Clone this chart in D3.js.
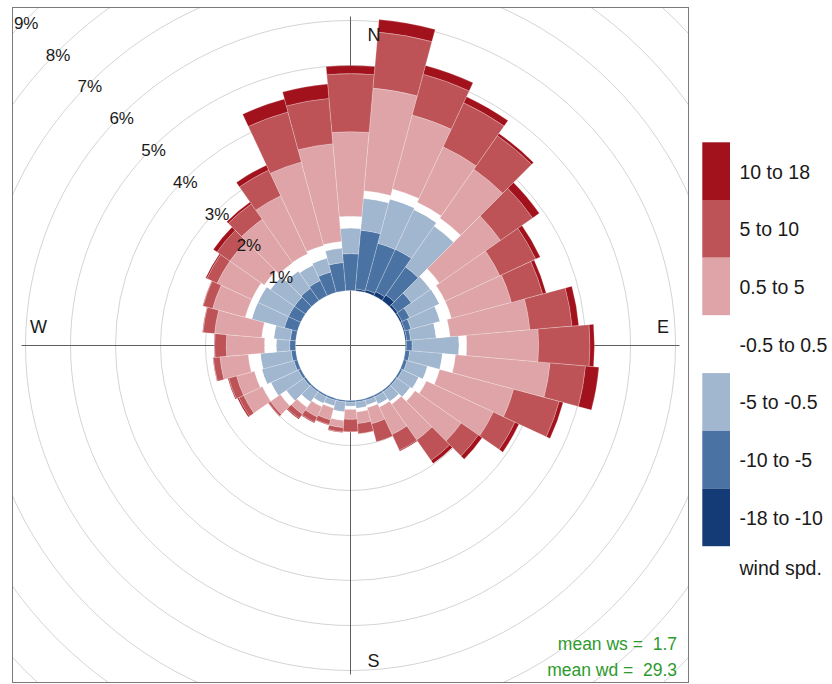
<!DOCTYPE html>
<html>
<head>
<meta charset="utf-8">
<script src="https://cdn.jsdelivr.net/npm/d3@7"></script>
<style>
  body { margin: 0; background: #ffffff; }
  svg text { font-family: "Liberation Sans", Arial, Helvetica, sans-serif; }
</style>
</head>
<body>
<svg id="chart" width="832" height="684"></svg>
<script>
// Wind direction sectors (degrees, clockwise from north)
const directions = [0, 10, 20, 30, 40, 50, 60, 70, 80, 90, 100, 110, 120, 130, 140, 150, 160, 170,
                    180, 190, 200, 210, 220, 230, 240, 250, 260, 270, 280, 290, 300, 310, 320, 330, 340, 350];

// Wind speed intervals, stacked from the centre outwards
const intervals = ["-18 to -10", "-10 to -5", "-5 to -0.5", "-0.5 to 0.5", "0.5 to 5", "5 to 10", "10 to 18"];
const intervalColours = ["#153b77", "#4a72a3", "#a1b6cf", "#ffffff", "#dea4a7", "#bd5357", "#a2121c"];

// Frequency (% of all hours) for each interval, one value per direction sector
const freqNeg18to10 = [0.00, 0.04, 0.06, 0.10, 0.15, 0.06, 0.04, 0.03, 0.03, 0.02,
                       0.00, 0.00, 0.00, 0.00, 0.00, 0.00, 0.00, 0.00, 0.00,
                       0.00, 0.00, 0.00, 0.00, 0.00, 0.00, 0.00, 0.00, 0.00,
                       0.00, 0.00, 0.00, 0.00, 0.00, 0.00, 0.00, 0.00];
const freqNeg10to5  = [0.82, 1.31, 1.07, 1.04, 0.76, 0.37, 0.19, 0.14, 0.09, 0.13,
                       0.10, 0.08, 0.05, 0.04, 0.04, 0.04, 0.04, 0.04, 0.04,
                       0.04, 0.04, 0.04, 0.04, 0.05, 0.06, 0.08, 0.10, 0.13,
                       0.12, 0.30, 0.30, 0.30, 0.33, 0.37, 0.47, 0.63];
const freqNeg5to05  = [0.57, 0.71, 1.02, 0.97, 1.11, 0.52, 0.73, 0.67, 0.57, 1.04,
                       0.73, 0.47, 0.40, 0.36, 0.26, 0.18, 0.11, 0.14, 0.09,
                       0.22, 0.13, 0.16, 0.28, 0.47, 0.67, 0.74, 0.69, 0.30,
                       0.37, 0.75, 0.75, 0.65, 0.47, 0.38, 0.32, 0.32];
const freqCalm      = [0.26, 0.17, 0.23, 0.18, 0.22, 0.24, 0.14, 0.26, 0.31, 0.17,
                       0.29, 0.28, 0.19, 0.13, 0.07, 0.07, 0.06, 0.08, 0.07,
                       0.19, 0.05, 0.08, 0.14, 0.16, 0.21, 0.17, 0.27, 0.26,
                       0.27, 0.15, 0.15, 0.17, 0.22, 0.28, 0.29, 0.15];
const freq05to5     = [1.88, 2.29, 1.70, 1.36, 1.32, 1.66, 1.34, 1.38, 1.78, 1.60,
                       2.11, 1.70, 1.64, 1.25, 0.97, 0.67, 0.37, 0.26, 0.22,
                       0.16, 0.27, 0.25, 0.18, 0.27, 0.46, 0.41, 0.63, 0.85,
                       1.05, 0.75, 0.85, 0.93, 1.18, 1.42, 1.92, 2.18];
const freq5to10     = [1.29, 1.25, 0.94, 1.08, 0.91, 0.87, 0.88, 0.72, 0.94, 1.14,
                       0.79, 1.05, 0.53, 0.47, 0.56, 0.39, 0.42, 0.23, 0.28,
                       0.10, 0.11, 0.13, 0.12, 0.05, 0.12, 0.18, 0.15, 0.26,
                       0.26, 0.22, 0.25, 0.35, 0.42, 0.63, 1.15, 1.01];
const freq10to18    = [0.18, 0.28, 0.20, 0.15, 0.06, 0.18, 0.11, 0.08, 0.15, 0.10,
                       0.30, 0.09, 0.10, 0.10, 0.08, 0.02, 0.00, 0.00, 0.00,
                       0.01, 0.01, 0.02, 0.02, 0.01, 0.03, 0.02, 0.01, 0.01,
                       0.01, 0.01, 0.03, 0.10, 0.05, 0.12, 0.30, 0.32];

const gridTicks = [1, 2, 3, 4, 5, 6, 7, 8, 9];
const compassLabels = ["N", "E", "S", "W"];
const legendTitle = "wind spd.";
const meanWs = 1.7;
const meanWd = 29.3;

// ---- layout ----
const cx = 350.5, cy = 345.5;
const panel = { x: 12.5, y: 7.5, w: 676, h: 675 };
const holeRadius = 55;
const svg = d3.select("#chart");

const r = d3.scaleLinear().domain([0, 9]).range([holeRadius, holeRadius + 9 * 45]);
const halfSector = 5 * Math.PI / 180;

const seriesByInterval = [freqNeg18to10, freqNeg10to5, freqNeg5to05, freqCalm, freq05to5, freq5to10, freq10to18];
const table = directions.map((d, i) => {
  const row = { dir: d };
  intervals.forEach((name, k) => { row[name] = seriesByInterval[k][i]; });
  return row;
});
const stacked = d3.stack().keys(intervals)(table);
const colour = d3.scaleOrdinal().domain(intervals).range(intervalColours);

// clip to the panel
svg.append("defs").append("clipPath").attr("id", "panelClip")
  .append("rect").attr("x", panel.x).attr("y", panel.y).attr("width", panel.w).attr("height", panel.h);

const plot = svg.append("g").attr("clip-path", "url(#panelClip)");

// grid circles
plot.append("g").selectAll("circle").data(gridTicks).join("circle")
  .attr("cx", cx).attr("cy", cy).attr("r", d => r(d))
  .attr("fill", "none").attr("stroke", "#d4d4d4").attr("stroke-width", 1);

// compass axes
const axisLen = 329;
plot.append("line").attr("x1", cx).attr("x2", cx).attr("y1", cy - axisLen).attr("y2", cy + axisLen)
  .attr("stroke", "#5e5e5e").attr("stroke-width", 1);
plot.append("line").attr("x1", cx - axisLen).attr("x2", cx + axisLen).attr("y1", cy).attr("y2", cy)
  .attr("stroke", "#5e5e5e").attr("stroke-width", 1);

// stacked wedges
const arc = d3.arc();
const bars = plot.append("g").attr("transform", `translate(${cx},${cy})`);
stacked.forEach(layer => {
  bars.append("g").selectAll("path").data(layer).join("path")
    .attr("d", seg => arc({
      innerRadius: r(seg[0]),
      outerRadius: r(seg[1]),
      startAngle: seg.data.dir * Math.PI / 180 - halfSector,
      endAngle: seg.data.dir * Math.PI / 180 + halfSector
    }))
    .attr("fill", colour(layer.key))
    .attr("stroke", "#ffffff").attr("stroke-opacity", 0.45).attr("stroke-width", 0.5);
});

// compass labels
const compassPos = {
  N: [cx + 17, cy - 305],
  E: [cx + 306.5, cy - 12.5],
  S: [cx + 17, cy + 321.5],
  W: [cx - 320.5, cy - 12.5]
};
svg.append("g").selectAll("text").data(compassLabels).join("text")
  .attr("x", d => compassPos[d][0]).attr("y", d => compassPos[d][1])
  .attr("font-size", 18).attr("fill", "#1a1a1a").text(d => d);

// percentage labels along the north-west diagonal
const diag = Math.SQRT1_2;
svg.append("g").selectAll("text").data(gridTicks).join("text")
  .attr("x", d => cx - (r(d) - 3.5) * diag - 1.5)
  .attr("y", d => cy - (r(d) - 3.5) * diag + 6)
  .attr("text-anchor", "middle")
  .attr("font-size", 17).attr("fill", "#1a1a1a")
  .text(d => d + "%");

// panel border
svg.append("rect").attr("x", panel.x).attr("y", panel.y).attr("width", panel.w).attr("height", panel.h)
  .attr("fill", "none").attr("stroke", "#7a7a7a").attr("stroke-width", 1);

// mean annotations
const green = "#2e9a2e";
svg.append("text").attr("x", 677).attr("y", 649.5).attr("text-anchor", "end")
  .attr("font-size", 17.5).attr("fill", green).style("white-space", "pre")
  .text("mean ws =  " + meanWs.toFixed(1));
svg.append("text").attr("x", 677).attr("y", 675.5).attr("text-anchor", "end")
  .attr("font-size", 17.5).attr("fill", green).style("white-space", "pre")
  .text("mean wd =  " + meanWd.toFixed(1));

// legend (highest interval on top)
const legendKeys = intervals.slice().reverse();
const keyH = 57.7, keyTop = 142.3;
const legend = svg.append("g");
legend.selectAll("rect").data(legendKeys).join("rect")
  .attr("x", 702.3).attr("y", (d, i) => keyTop + i * keyH)
  .attr("width", 27.7).attr("height", keyH)
  .attr("fill", d => colour(d));
legend.selectAll("text").data(legendKeys).join("text")
  .attr("x", 739.5).attr("y", (d, i) => keyTop + i * keyH + keyH / 2 + 7.5)
  .attr("font-size", 19.5).attr("fill", "#1a1a1a")
  .text(d => d);
legend.append("text").attr("x", 739.5).attr("y", 575)
  .attr("font-size", 19.5).attr("fill", "#1a1a1a").text(legendTitle);
</script>
</body>
</html>
